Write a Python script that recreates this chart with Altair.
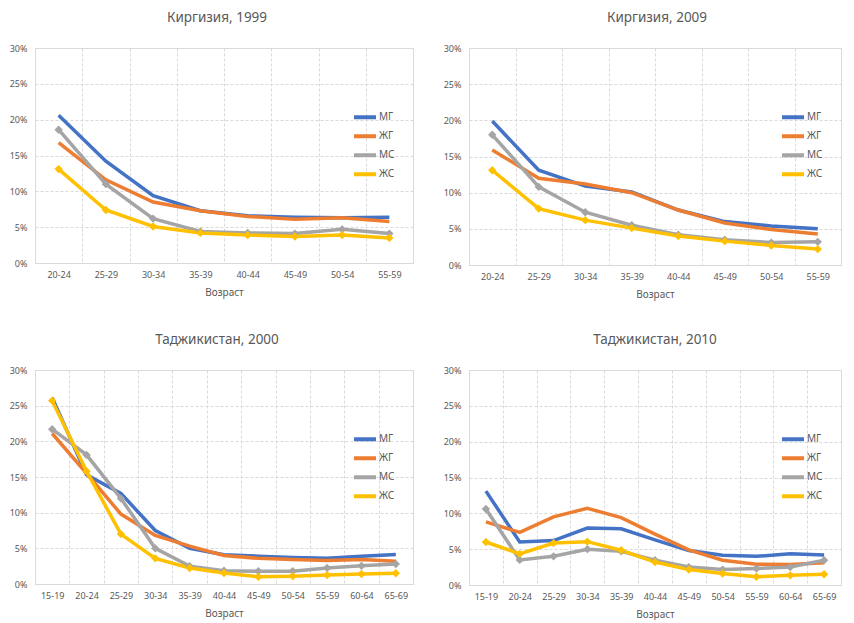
import altair as alt
import pandas as pd

FONT = "Noto Sans"
TXT = "#595959"
GRID = "#d9d9d9"

series = ["МГ", "ЖГ", "МС", "ЖС"]
colors = ["#4472C4", "#ED7D31", "#A5A5A5", "#FFC000"]

ages_k = ["20-24", "25-29", "30-34", "35-39", "40-44", "45-49", "50-54", "55-59"]
ages_t = ["15-19", "20-24", "25-29", "30-34", "35-39", "40-44", "45-49",
          "50-54", "55-59", "60-64", "65-69"]

# Киргизия, 1999 (%)
k1999_mg = [20.6, 14.2, 9.4, 7.3, 6.6, 6.4, 6.3, 6.4]
k1999_zg = [16.8, 11.6, 8.5, 7.3, 6.5, 6.1, 6.3, 5.8]
k1999_ms = [18.6, 11.0, 6.2, 4.4, 4.2, 4.1, 4.7, 4.1]
k1999_zs = [13.1, 7.4, 5.1, 4.2, 3.9, 3.7, 3.9, 3.5]

# Киргизия, 2009 (%)
k2009_mg = [19.9, 13.1, 10.9, 10.1, 7.6, 6.0, 5.4, 5.0]
k2009_zg = [15.9, 12.0, 11.2, 10.0, 7.6, 5.8, 4.9, 4.3]
k2009_ms = [18.0, 10.8, 7.3, 5.5, 4.2, 3.5, 3.1, 3.2]
k2009_zs = [13.1, 7.8, 6.2, 5.1, 4.0, 3.3, 2.7, 2.2]

# Таджикистан, 2000 (%)
t2000_mg = [26.1, 15.3, 12.7, 7.5, 5.0, 4.1, 3.9, 3.7, 3.6, 3.9, 4.15]
t2000_zg = [21.1, 15.5, 9.8, 6.8, 5.3, 4.0, 3.6, 3.45, 3.3, 3.45, 3.2]
t2000_ms = [21.7, 18.1, 12.0, 5.0, 2.5, 1.85, 1.8, 1.8, 2.25, 2.55, 2.8]
t2000_zs = [25.7, 15.8, 7.0, 3.6, 2.25, 1.55, 1.0, 1.1, 1.25, 1.4, 1.5]

# Таджикистан, 2010 (%)
t2010_mg = [13.1, 6.0, 6.2, 7.95, 7.85, 6.3, 4.8, 4.15, 4.0, 4.35, 4.2]
t2010_zg = [8.8, 7.35, 9.5, 10.7, 9.4, 7.1, 4.9, 3.45, 2.9, 2.85, 3.1]
t2010_ms = [10.6, 3.5, 4.0, 5.0, 4.7, 3.45, 2.5, 2.15, 2.3, 2.5, 3.45]
t2010_zs = [6.0, 4.35, 5.85, 6.05, 4.85, 3.2, 2.15, 1.6, 1.15, 1.35, 1.5]


def make_df(ages, vals):
    rows = []
    for s, arr in zip(series, vals):
        for a, v in zip(ages, arr):
            rows.append({"age": a, "series": s, "value": v / 100.0})
    return pd.DataFrame(rows)


def panel(title, ages, vals, width, height, dx):
    df = make_df(ages, vals)
    x = alt.X(
        "age:N", sort=ages,
        scale=alt.Scale(type="band", paddingInner=0, paddingOuter=0),
        axis=alt.Axis(
            title="Возраст", labelAngle=0, tickBand="extent", grid=True,
            gridDash=[3, 2], gridColor=GRID, ticks=False, domain=True,
            domainColor=GRID, labelColor=TXT, labelFont=FONT, labelFontSize=9,
            labelPadding=7, titleColor=TXT, titleFont=FONT, titleFontSize=10,
            titleFontWeight="normal", titlePadding=8,
        ),
    )
    y = alt.Y(
        "value:Q", scale=alt.Scale(domain=[0, 0.30]),
        axis=alt.Axis(
            title=None, format=".0%", values=[0, 0.05, 0.10, 0.15, 0.20, 0.25, 0.30],
            grid=True, gridDash=[3, 2], gridColor=GRID, ticks=False, domain=False,
            labelColor=TXT, labelFont=FONT, labelFontSize=9, labelPadding=8,
        ),
    )
    base = alt.Chart(df)
    lines = base.mark_line(strokeWidth=3.5).encode(
        x=x, y=y,
        color=alt.Color(
            "series:N", sort=series,
            scale=alt.Scale(domain=series, range=colors),
            legend=alt.Legend(
                title=None, orient="none", legendX=width - 61, legendY=60,
                symbolType="stroke", symbolStrokeWidth=4, symbolSize=484,
                clipHeight=18.5, rowPadding=0, labelFont=FONT, labelFontSize=10,
                labelColor=TXT, labelOffset=1,
            ),
        ),
        order=alt.Order("series_order:Q"),
    ).transform_calculate(
        series_order="indexof(['МГ','ЖГ','МС','ЖС'], datum.series)"
    )
    points = base.transform_filter(
        alt.FieldOneOfPredicate(field="series", oneOf=["МС", "ЖС"])
    ).mark_point(shape="diamond", filled=True, size=70, opacity=1, strokeWidth=0).encode(
        x=x, y=y,
        fill=alt.Fill("series:N", scale=alt.Scale(domain=series, range=colors), legend=None),
    )
    return alt.layer(lines, points).properties(
        width=width, height=height,
        title=alt.TitleParams(
            text=title, font=FONT, fontSize=13.5, fontWeight="normal",
            color=TXT, offset=20, dx=dx, anchor="middle",
        ),
    )


p1 = panel("Киргизия, 1999", ages_k, [k1999_mg, k1999_zg, k1999_ms, k1999_zs], 378, 215, -7)
p2 = panel("Киргизия, 2009", ages_k, [k2009_mg, k2009_zg, k2009_ms, k2009_zs], 372, 217, 2)
p3 = panel("Таджикистан, 2000", ages_t, [t2000_mg, t2000_zg, t2000_ms, t2000_zs], 378, 214, -7)
p4 = panel("Таджикистан, 2010", ages_t, [t2010_mg, t2010_zg, t2010_ms, t2010_zs], 372, 215, 0)

row1 = alt.hconcat(p1, p2, spacing=28).resolve_scale(color="independent", fill="independent").resolve_legend(color="independent")
row2 = alt.hconcat(p3, p4, spacing=28).resolve_scale(color="independent", fill="independent").resolve_legend(color="independent")

chart = alt.vconcat(row1, row2, spacing=32).resolve_scale(
    color="independent", fill="independent"
).resolve_legend(color="independent").properties(
    padding={"left": 0, "top": 2, "right": 0, "bottom": 0}
).configure_view(strokeWidth=0).configure(background="white")

chart.save("out.html", embed_options={"renderer": "svg", "actions": False})
